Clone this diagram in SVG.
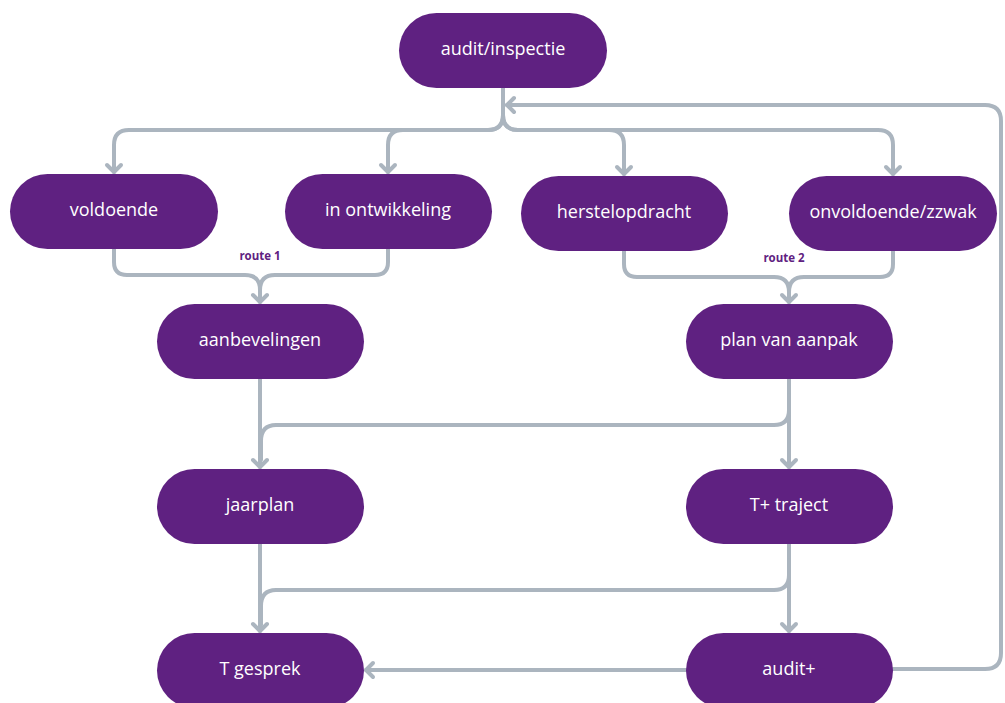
<svg xmlns="http://www.w3.org/2000/svg" width="1005" height="703" viewBox="0 0 1005 703">
<style>
.n rect{fill:#5f2181}
.n text{fill:#fff;font-family:"Open Sans","Liberation Sans",sans-serif;font-size:18px;text-anchor:middle;dominant-baseline:central}
.c path{fill:none;stroke:#abb5bf;stroke-width:4;stroke-linecap:round;stroke-linejoin:round}
.lbl{fill:#5f2181;font-family:"Open Sans","Liberation Sans",sans-serif;font-size:11.5px;font-weight:bold;text-anchor:middle}
</style>
<defs>
<marker id="ah" markerUnits="userSpaceOnUse" markerWidth="20" markerHeight="20" refX="11" refY="10" orient="auto" viewBox="0 0 20 20">
<path d="M4,3 L11,10 L4,17" fill="none" stroke="#abb5bf" stroke-width="4" stroke-linecap="round" stroke-linejoin="round"/>
</marker>
</defs>
<g class="c" id="connectors">
<path d="M503,88 V115 Q503,130 488,130 H129 Q114,130 114,145 V172" marker-end="url(#ah)"/>
<path d="M503,115 Q503,130 488,130 H403 Q388,130 388,145 V172" marker-end="url(#ah)"/>
<path d="M503,115 Q503,130 518,130 H609 Q624,130 624,145 V174" marker-end="url(#ah)"/>
<path d="M503,115 Q503,130 518,130 H878 Q893,130 893,145 V174" marker-end="url(#ah)"/>
<path d="M893,669 H985 Q1001,669 1001,653 V121 Q1001,105 985,105 H507" marker-end="url(#ah)"/>
<path d="M114,249 V262 Q114,275 127,275 H245 Q260,275 260,290 V302" marker-end="url(#ah)"/>
<path d="M388,249 V262 Q388,275 375,275 H275 Q260,275 260,290"/>
<path d="M624,251 V264 Q624,277 637,277 H774 Q789,277 789,292 V302" marker-end="url(#ah)"/>
<path d="M893,251 V264 Q893,277 880,277 H804 Q789,277 789,292"/>
<path d="M260,379 V467" marker-end="url(#ah)"/>
<path d="M789,379 V467" marker-end="url(#ah)"/>
<path d="M789,395 V410 Q789,425 774,425 H276 Q261,425 261,441 V460"/>
<path d="M260,544 V631" marker-end="url(#ah)"/>
<path d="M789,544 V631" marker-end="url(#ah)"/>
<path d="M789,560 V575 Q789,590 774,590 H276 Q261,590 261,606 V625"/>
<path d="M686,670 H366" marker-end="url(#ah)"/>
</g>
<text class="lbl" x="260" y="260">route 1</text>
<text class="lbl" x="784" y="262">route 2</text>
<g class="n" id="n-audit"><rect x="399" y="13" width="208" height="75" rx="37.5"/><text x="503" y="48">audit/inspectie</text></g>
<g class="n" id="n-voldoende"><rect x="10" y="174" width="208" height="75" rx="37.5"/><text x="114" y="209">voldoende</text></g>
<g class="n" id="n-ontw"><rect x="285" y="174" width="207" height="75" rx="37.5"/><text x="388" y="209">in ontwikkeling</text></g>
<g class="n" id="n-herstel"><rect x="521" y="176" width="207" height="75" rx="37.5"/><text x="624" y="211">herstelopdracht</text></g>
<g class="n" id="n-onvold"><rect x="789" y="176" width="208" height="75" rx="37.5"/><text x="893" y="211">onvoldoende/zzwak</text></g>
<g class="n" id="n-aanbev"><rect x="157" y="304" width="207" height="75" rx="37.5"/><text x="260" y="339">aanbevelingen</text></g>
<g class="n" id="n-pva"><rect x="686" y="304" width="207" height="75" rx="37.5"/><text x="789" y="339">plan van aanpak</text></g>
<g class="n" id="n-jaarplan"><rect x="157" y="469" width="207" height="75" rx="37.5"/><text x="260" y="504">jaarplan</text></g>
<g class="n" id="n-tplus"><rect x="686" y="469" width="207" height="75" rx="37.5"/><text x="789" y="504">T+ traject</text></g>
<g class="n" id="n-tgesprek"><rect x="157" y="633" width="207" height="75" rx="37.5"/><text x="260" y="668">T gesprek</text></g>
<g class="n" id="n-auditplus"><rect x="686" y="633" width="207" height="75" rx="37.5"/><text x="789" y="668">audit+</text></g>
</svg>
